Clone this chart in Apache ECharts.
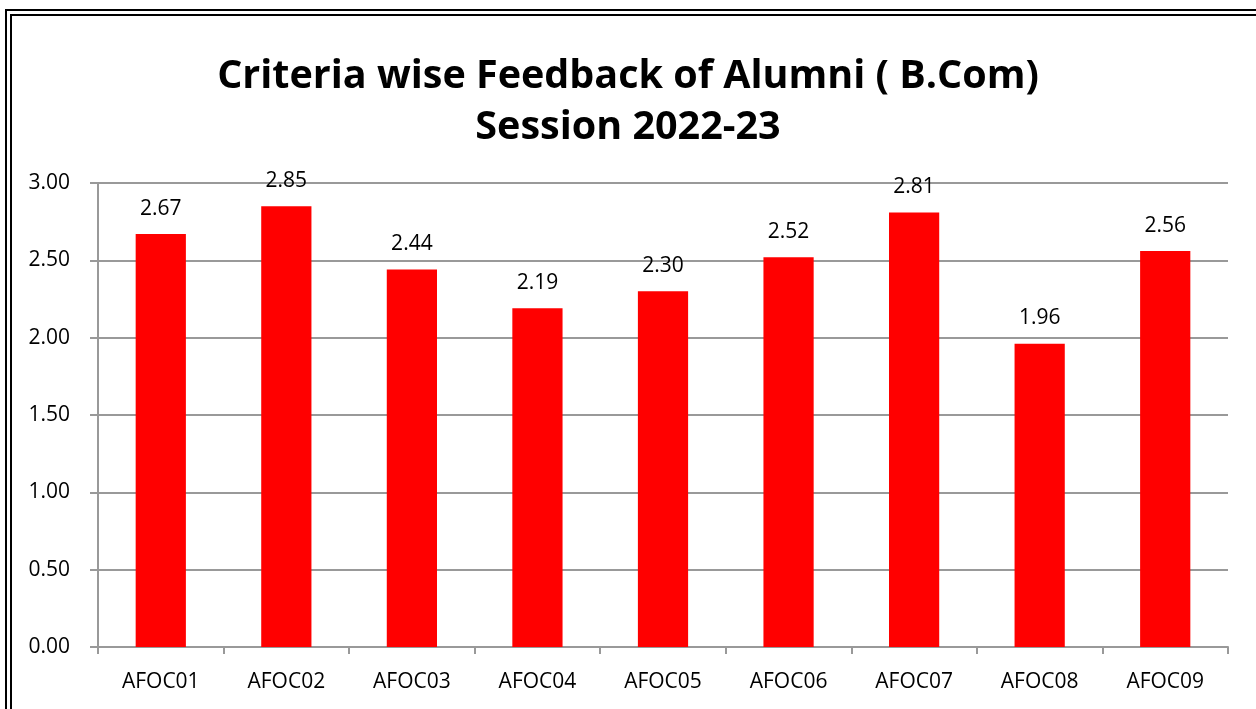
<!DOCTYPE html>
<html>
<head>
<meta charset="utf-8">
<script src="https://cdn.jsdelivr.net/npm/echarts@6/dist/echarts.min.js"></script>
<style>
  html, body { margin: 0; padding: 0; background: #fff; }
  #frame {
    position: absolute; left: 5px; top: 9px; width: 1260px; height: 720px;
    border: 7px double #000; box-sizing: border-box;
  }
  #main { position: absolute; left: 0; top: 0; width: 1256px; height: 709px; }
</style>
</head>
<body>
<div id="frame"></div>
<div id="main"></div>
<script>
// 类别和数值
var categories = ['AFOC01', 'AFOC02', 'AFOC03', 'AFOC04', 'AFOC05', 'AFOC06', 'AFOC07', 'AFOC08', 'AFOC09'];
var scores = [2.67, 2.85, 2.44, 2.19, 2.30, 2.52, 2.81, 1.96, 2.56];
var titleLines = ['Criteria wise Feedback of Alumni ( B.Com)', 'Session 2022-23'];

var myChart = echarts.init(document.getElementById('main'));

var fontFam = 'Open Sans';

var option = {
    animation: false,
    title: {
        text: titleLines.join('\n'),
        left: 'center',
        top: 46,
        textStyle: {
            fontFamily: fontFam,
            fontWeight: 'bold',
            fontSize: 39.5,
            lineHeight: 51,
            color: '#000'
        }
    },
    grid: {
        left: 98,
        right: 28,
        top: 183,
        bottom: 62,
        containLabel: false
    },
    xAxis: {
        type: 'category',
        data: categories,
        axisLine: { lineStyle: { color: '#999', width: 2 } },
        axisTick: { show: true, length: 7, lineStyle: { color: '#999', width: 2 } },
        axisLabel: { fontFamily: fontFam, fontSize: 21, color: '#000', margin: 25 }
    },
    yAxis: {
        type: 'value',
        min: 0,
        max: 3,
        interval: 0.5,
        axisLine: { show: true, lineStyle: { color: '#999', width: 2 } },
        axisTick: { show: true, length: 8, lineStyle: { color: '#999', width: 2 } },
        axisLabel: {
            fontFamily: fontFam, fontSize: 21, color: '#000', margin: 28,
            formatter: function (v) { return v.toFixed(2); }
        },
        splitLine: { lineStyle: { color: '#999', width: 2 } }
    },
    series: [{
        name: 'Score',
        type: 'bar',
        data: scores,
        barWidth: '40%',
        itemStyle: { color: '#ff0000' },
        label: {
            show: true,
            position: 'top',
            distance: 15,
            fontFamily: fontFam,
            fontSize: 21,
            color: '#000',
            formatter: function (p) { return p.value.toFixed(2); }
        }
    }]
};

myChart.setOption(option);
</script>
</body>
</html>
